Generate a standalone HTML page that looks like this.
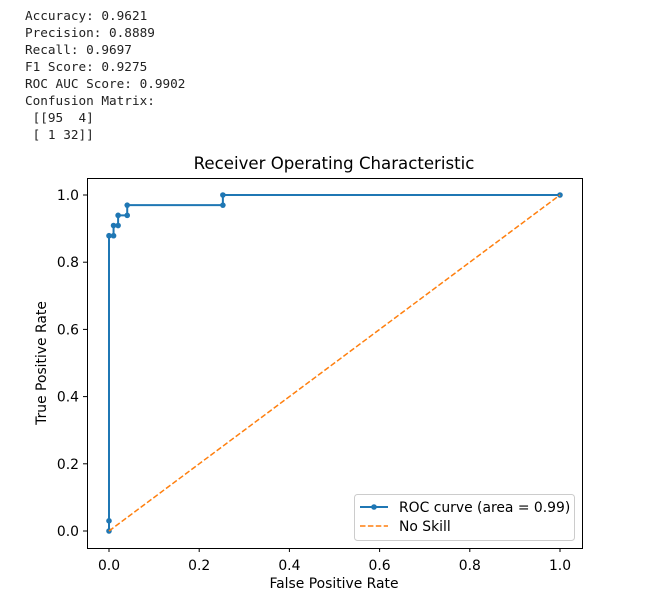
<!DOCTYPE html>
<html><head><meta charset="utf-8"><style>
body{margin:0;background:#fff;width:645px;height:604px;overflow:hidden}
pre{position:absolute;left:25px;top:7px;margin:0;font-family:"DejaVu Sans Mono","Liberation Mono",monospace;font-size:12.7px;line-height:17px;color:#222}
svg{position:absolute;left:0;top:0}
text{font-family:"DejaVu Sans","Liberation Sans",sans-serif;fill:#000}
</style></head><body>
<pre>Accuracy: 0.9621
Precision: 0.8889
Recall: 0.9697
F1 Score: 0.9275
ROC AUC Score: 0.9902
Confusion Matrix:
 [[95  4]
 [ 1 32]]</pre>
<svg id="c" width="645" height="604"></svg>
<script>
const fpr=[0,0,0,0.0101,0.0101,0.0202,0.0202,0.0404,0.0404,0.2525,0.2525,1];
const tpr=[0,0.0303,0.8788,0.8788,0.9091,0.9091,0.9394,0.9394,0.9697,0.9697,1,1];
const skillX=[0,1];
const skillY=[0,1];
const ticks=[0,0.2,0.4,0.6,0.8,1.0];
const tickLabels=["0.0","0.2","0.4","0.6","0.8","1.0"];
const X=v=>109+v*451, Y=v=>531-v*336;
const svg=document.getElementById('c');const NS='http://www.w3.org/2000/svg';
function mk(t,a,p){const e=document.createElementNS(NS,t);for(const k in a)e.setAttribute(k,a[k]);(p||svg).appendChild(e);return e;}
let e;
e=mk('text',{x:334,y:169,'text-anchor':'middle','font-size':'16.6'});e.textContent='Receiver Operating Characteristic';


ticks.forEach((t,i)=>{
 e=mk('line',{x1:X(t),x2:X(t),y1:548,y2:552,stroke:'#000','stroke-width':1});
 
 
 e=mk('text',{x:X(t),y:570,'text-anchor':'middle','font-size':'13.9'});e.textContent=tickLabels[i];
 
 
 e=mk('line',{x1:83,x2:87,y1:Y(t),y2:Y(t),stroke:'#000','stroke-width':1});
 
 
 e=mk('text',{x:79,y:Y(t)+5,'text-anchor':'end','font-size':'13.9'});e.textContent=tickLabels[i];
 
 
});
e=mk('text',{x:334,y:588,'text-anchor':'middle','font-size':'13.9'});e.textContent='False Positive Rate';


e=mk('text',{x:46,y:363,'text-anchor':'middle','font-size':'13.9',transform:'rotate(-90 46 363)'});e.textContent='True Positive Rate';


e=mk('polyline',{points:fpr.map((v,i)=>X(v)+','+Y(tpr[i])).join(' '),fill:'none',stroke:'#1f77b4','stroke-width':2});


fpr.forEach((v,i)=>{e=mk('circle',{cx:X(v),cy:Y(tpr[i]),r:2.8,fill:'#1f77b4'});
 
 });
e=mk('line',{x1:X(skillX[0]),y1:Y(skillY[0]),x2:X(skillX[1]),y2:Y(skillY[1]),stroke:'#ff7f0e','stroke-width':1.5,'stroke-dasharray':'5.5,2.4'});


e=mk('rect',{x:87.5,y:178.5,width:495,height:370,fill:'none',stroke:'#000','stroke-width':1});


const g=mk('g',{});


mk('rect',{x:354.5,y:494.5,width:220,height:46,rx:3,fill:'#fff','fill-opacity':0.8,stroke:'#ccc'},g);
mk('line',{x1:360,x2:388,y1:507,y2:507,stroke:'#1f77b4','stroke-width':2},g);
mk('circle',{cx:374,cy:507,r:2.8,fill:'#1f77b4'},g);
e=mk('text',{x:399,y:512,'font-size':'13.9'},g);e.textContent='ROC curve (area = 0.99)';


mk('line',{x1:360,x2:388,y1:526,y2:526,stroke:'#ff7f0e','stroke-width':1.5,'stroke-dasharray':'5.5,2.4'},g);
e=mk('text',{x:399,y:531,'font-size':'13.9'},g);e.textContent='No Skill';


</script>
</body></html>
